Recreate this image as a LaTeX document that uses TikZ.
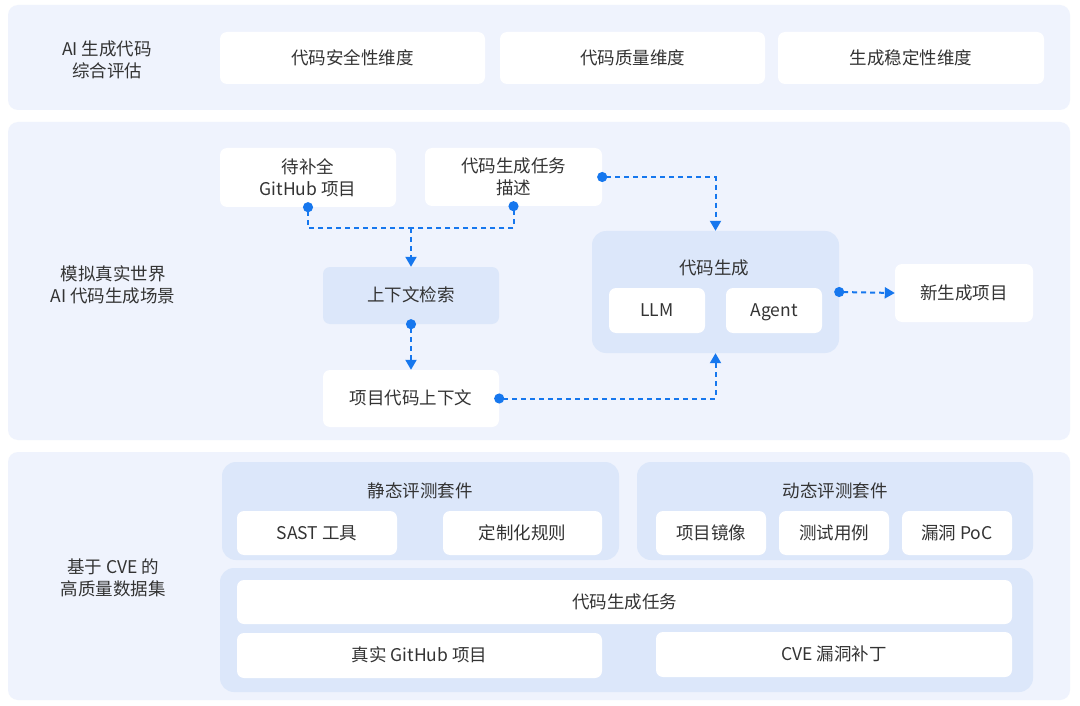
\documentclass[tikz,border=0pt]{standalone}
\usepackage{fontspec}
\setmainfont{Noto Sans CJK SC}
\usepackage{xcolor}
\usepackage{tikz}
\usetikzlibrary{positioning, arrows.meta}

\definecolor{panelbg}{HTML}{EFF3FD}
\definecolor{groupbg}{HTML}{DCE7FA}
\definecolor{txtgray}{HTML}{333333}
\definecolor{flowblue}{HTML}{1677EE}

\tikzset{
  panel/.style={fill=panelbg, rounded corners=10pt},
  group/.style={fill=groupbg, rounded corners=14pt, inner sep=0pt},
  cell/.style={fill=white, rounded corners=7pt, inner sep=0pt, align=center, text=txtgray},
  oneline/.style={text height=1.3em, text depth=0.05em},
  bluecell/.style={cell, fill=groupbg},
  caption/.style={align=center, text=txtgray, inner sep=0pt},
  link/.style={flowblue, line width=2pt, dash pattern=on 5pt off 4pt},
  src/.style={{Circle[length=10pt]}-, shorten <=-5pt},
  tip/.style={-{Triangle[width=11pt,length=10pt]}},
  srctip/.style={{Circle[length=10pt]}-{Triangle[width=11pt,length=10pt]}, shorten <=-5pt}
}

\begin{document}
\begin{tikzpicture}[x=1pt, y=-1pt, font=\fontsize{17.5}{21.5}\selectfont]
    \useasboundingbox[fill=white] (0,0) rectangle (1080,706);
    % three layers
    \fill[panel] (8,5) rectangle (1070,110);
    \fill[panel] (8,122) rectangle (1070,440);
    \fill[panel] (8,452) rectangle (1070,700);

    % layer 1: evaluation
    \node[caption] (lab1) at (107,60) {AI 生成代码\\综合评估};
    \node[cell, oneline, minimum width=265pt, minimum height=52pt] (sec) at (352.5,58) {代码安全性维度};
    \node[cell, oneline, minimum width=265pt, minimum height=52pt] (qual) at (632.5,58) {代码质量维度};
    \node[cell, oneline, minimum width=266pt, minimum height=52pt] (stab) at (911,58) {生成稳定性维度};

    % layer 2: scenario
    \node[caption] (lab2) at (113,285) {模拟真实世界\\AI 代码生成场景};
    \node[cell, minimum width=176pt, minimum height=59pt] (gh) at (308,177.5) {待补全\\GitHub 项目};
    \node[cell, minimum width=177pt, minimum height=58pt] (task) at (513.5,177) {代码生成任务\\描述};
    \node[bluecell, oneline, minimum width=176pt, minimum height=57pt] (retr) at (411,295.5) {上下文检索};
    \node[cell, oneline, minimum width=176pt, minimum height=57pt] (ctx) at (411,398.5) {项目代码上下文};
    \node[group, minimum width=247pt, minimum height=122pt] (codegen) at (715.5,292) {};
    \node[caption, oneline] (genttl) at (714,268) {代码生成};
    \node[cell, oneline, minimum width=96pt, minimum height=45pt] (llm) at (657,310.5) {LLM};
    \node[cell, oneline, minimum width=96pt, minimum height=45pt] (agent) at (774,310.5) {Agent};
    \node[cell, oneline, minimum width=138pt, minimum height=58pt] (newproj) at (964,293) {新生成项目};

    \coordinate (merge) at (411,228);
    \draw[link, src] (gh.south) |- (merge);
    \draw[link, src] (task.south) |- (merge);
    \draw[link, tip] (merge) -- (retr.north);
    \draw[link, srctip] (retr.south) -- (ctx.north);
    \draw[link, srctip] (task.east) -| (codegen.north);
    \draw[link, srctip] (ctx.east) -| (codegen.south);
    \draw[link, srctip] (codegen.east) -- (newproj.west);

    % layer 3: dataset
    \node[caption] (lab3) at (113,578) {基于 CVE 的\\高质量数据集};
    \node[group, minimum width=397pt, minimum height=98pt] (static) at (420.5,511) {};
    \node[caption, oneline] (statttl) at (420,491) {静态评测套件};
    \node[cell, oneline, minimum width=160pt, minimum height=44pt] (sast) at (317,533) {SAST 工具};
    \node[cell, oneline, minimum width=159pt, minimum height=44pt] (rule) at (522.5,533) {定制化规则};
    \node[group, minimum width=396pt, minimum height=98pt] (dynamic) at (835,511) {};
    \node[caption, oneline] (dynttl) at (835,491) {动态评测套件};
    \node[cell, oneline, minimum width=110pt, minimum height=44pt] (img) at (711,533) {项目镜像};
    \node[cell, oneline, minimum width=110pt, minimum height=44pt] (test) at (834,533) {测试用例};
    \node[cell, oneline, minimum width=110pt, minimum height=44pt] (poc) at (957,533) {漏洞 PoC};
    \node[group, minimum width=813pt, minimum height=124pt] (base) at (626.5,630) {};
    \node[cell, oneline, minimum width=775pt, minimum height=44pt] (gentask) at (624.5,602) {代码生成任务};
    \node[cell, oneline, minimum width=365pt, minimum height=45pt] (real) at (419.5,655.5) {真实 GitHub 项目};
    \node[cell, oneline, minimum width=356pt, minimum height=45pt] (patch) at (834,654.5) {CVE 漏洞补丁};
\end{tikzpicture}
\end{document}
